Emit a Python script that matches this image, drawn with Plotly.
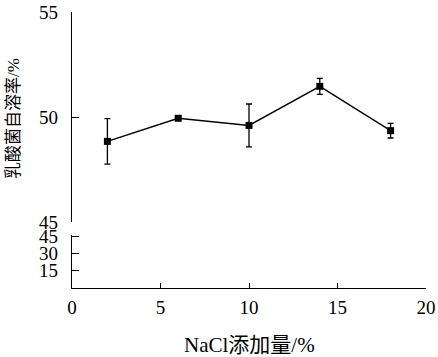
import plotly.graph_objects as go

nacl = [2, 6, 10, 14, 18]
autolysis = [48.84, 49.94, 49.6, 51.46, 49.35]
err = [1.08, 0.06, 1.02, 0.38, 0.35]

x_ticks = [0, 5, 10, 15, 20]
y_upper_ticks = [45, 50, 55]
y_lower_ticks = [15, 30, 45]

serif = "Liberation Serif, Times New Roman, serif"
cjk = "Liberation Serif, Noto Sans CJK SC, serif"

fig = go.Figure()
fig.add_trace(go.Scatter(
    x=nacl, y=autolysis, mode="lines+markers",
    line=dict(color="black", width=1.4),
    marker=dict(symbol="square", size=7, color="black"),
    error_y=dict(type="data", array=err, visible=True, color="black", thickness=1.3, width=3),
    xaxis="x", yaxis="y", showlegend=False,
))
# invisible trace on lower axis so it renders
fig.add_trace(go.Scatter(x=[None], y=[None], xaxis="x", yaxis="y2", showlegend=False))

tickfont = dict(family=serif, size=19, color="black")
fig.update_layout(
    width=438, height=357,
    margin=dict(l=72, r=12, t=12, b=69, autoexpand=False),
    paper_bgcolor="white", plot_bgcolor="white",
    xaxis=dict(range=[0, 20], tickvals=x_ticks, ticks="inside", ticklen=5, tickcolor="black",
               showline=True, linecolor="black", linewidth=1.3, showgrid=False, zeroline=False,
               anchor="y2", tickfont=tickfont, ticklabelstandoff=2, automargin=False),
    yaxis=dict(domain=[0.239, 1], range=[45, 55], tickvals=y_upper_ticks, ticks="inside", ticklen=7,
               tickcolor="black", showline=True, linecolor="black", linewidth=1.3, showgrid=False,
               zeroline=False, anchor="x", tickfont=tickfont, ticklabelstandoff=9, automargin=False),
    yaxis2=dict(domain=[0, 0.192], range=[0, 46], tickvals=y_lower_ticks, ticks="inside", ticklen=7,
                tickcolor="black", showline=True, linecolor="black", linewidth=1.3, showgrid=False,
                zeroline=False, anchor="x", tickfont=tickfont, ticklabelstandoff=9, automargin=False),
    annotations=[
        dict(text="乳酸菌自溶率/%", x=0, y=0.612, xref="paper", yref="paper", xshift=-59,
             textangle=-90, showarrow=False, xanchor="center", yanchor="middle",
             font=dict(family=cjk, size=17, color="black")),
        dict(text="NaCl添加量/%", x=0.5, y=0, xref="paper", yref="paper", yshift=-57,
             showarrow=False, xanchor="center", yanchor="middle",
             font=dict(family=cjk, size=21, color="black")),
    ],
)
fig.write_html("out.html", config={"displayModeBar": False},
               post_script="document.body.style.margin='0';document.body.style.overflow='hidden';")
